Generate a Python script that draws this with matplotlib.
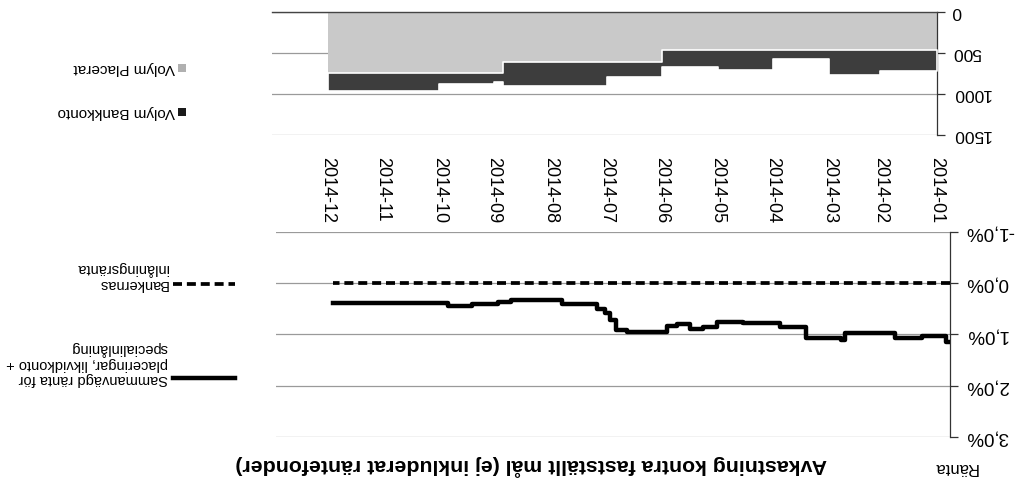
import numpy as np
import matplotlib
matplotlib.use("Agg")
import matplotlib.pyplot as plt
from matplotlib.lines import Line2D
from matplotlib.patches import Rectangle

plt.rcParams['font.family'] = ['Liberation Sans', 'DejaVu Sans']

# ---------------- data ----------------
rate_dates = ['2014-01-01', '2014-01-03', '2014-01-16', '2014-01-31', '2014-02-27',
              '2014-03-01', '2014-03-20', '2014-04-03', '2014-04-23', '2014-05-07',
              '2014-05-15', '2014-05-22', '2014-05-29', '2014-06-03', '2014-06-25',
              '2014-07-01', '2014-07-04', '2014-07-07', '2014-07-11', '2014-07-30',
              '2014-08-27', '2014-09-03', '2014-09-17', '2014-09-30', '2014-12-01']
rate_values = [1.15, 1.02, 1.07, 0.98, 1.11,
               1.07, 0.86, 0.78, 0.76, 0.86,
               0.89, 0.80, 0.84, 0.95, 0.91,
               0.72, 0.58, 0.50, 0.40, 0.33,
               0.36, 0.40, 0.44, 0.39, 0.39]

bank_rate_dates = ['2014-01-01', '2014-12-01']
bank_rate_values = [0.0, 0.0]

vol_dates = ['2014-01-01', '2014-02-01', '2014-03-01', '2014-04-01', '2014-05-01',
             '2014-06-01', '2014-07-01', '2014-08-27', '2014-09-01', '2014-10-01',
             '2014-12-01']
vol_placerat = [460, 460, 460, 460, 460, 610, 610, 750, 750, 750, 750]
vol_bankkonto = [257, 310, 119, 249, 209, 190, 288, 100, 125, 211, 211]

month_ticks = ['2014-01-01', '2014-02-01', '2014-03-01', '2014-04-01', '2014-05-01',
               '2014-06-01', '2014-07-01', '2014-08-01', '2014-09-01', '2014-10-01',
               '2014-11-01', '2014-12-01']
month_labels = ['2014-01', '2014-02', '2014-03', '2014-04', '2014-05', '2014-06',
                '2014-07', '2014-08', '2014-09', '2014-10', '2014-11', '2014-12']

rate_ticks = [-1, 0, 1, 2, 3]
rate_tick_labels = ['-1,0%', '0,0%', '1,0%', '2,0%', '3,0%']
vol_ticks = [0, 500, 1000, 1500]
vol_tick_labels = ['0', '500', '1000', '1500']

title = 'Avkastning kontra fastställt mål (ej inkluderat räntefonder)'
y_title = 'Ränta'
legend_rate = 'Sammanvägd ränta för\nplaceringar, likvidkonto +\nspecialinlåning'
legend_bank = 'Bankernas\ninlåningsränta'
legend_bankkonto = 'Volym Bankkonto'
legend_placerat = 'Volym Placerat'

# ---------------- figure (whole picture is turned 180 degrees) ----------------
W, H = 1022, 486
fig = plt.figure(figsize=(W / 100, H / 100), dpi=100)
fig.patch.set_facecolor('white')


def fx(px):
    return px / W


def fy(py):
    return 1 - py / H


x_start = np.datetime64('2014-01-01')
x_end = np.datetime64('2015-01-01')

# ----- rate line chart -----
ax_line = fig.add_axes([fx(276), fy(437), fx(950 - 276), (437 - 232) / H])
rd = np.array(rate_dates, dtype='datetime64[D]')
bd = np.array(bank_rate_dates, dtype='datetime64[D]')
ax_line.step(bd, bank_rate_values, where='post', color='black', lw=2.7,
             ls=(0, (2.4, 1.3)), zorder=3)
ax_line.step(rd, rate_values, where='post', color='black', lw=3.2, zorder=4)
ax_line.set_xlim(x_end, x_start)
ax_line.set_ylim(3, -1)
ax_line.set_yticks(rate_ticks)
ax_line.set_yticklabels(rate_tick_labels)
ax_line.yaxis.tick_right()
ax_line.yaxis.grid(True, color='#9a9a9a', lw=0.9)
ax_line.set_axisbelow(True)
ax_line.tick_params(axis='y', direction='out', length=6, width=0.9, color='#333333',
                    labelsize=13.5, labelrotation=180, pad=5)
ax_line.tick_params(axis='x', length=0, labelbottom=False, labeltop=False)
for lab in ax_line.get_yticklabels():
    lab.set_va('center')
for s in ['top', 'bottom', 'left']:
    ax_line.spines[s].set_visible(False)
ax_line.spines['right'].set_color('#333333')
ax_line.spines['right'].set_linewidth(0.9)

# ----- volume stacked area chart -----
ax_vol = fig.add_axes([fx(271.5), fy(135), fx(936.7 - 271.5), (135 - 11.7) / H])
vd = np.array(vol_dates, dtype='datetime64[D]')
placerat = np.array(vol_placerat, dtype=float)
bankkonto = np.array(vol_bankkonto, dtype=float)
ax_vol.fill_between(vd, 0, placerat, step='post', facecolor='#c9c9c9',
                    edgecolor='none', zorder=2)
ax_vol.fill_between(vd, placerat, placerat + bankkonto, step='post',
                    facecolor='#3d3d3d', edgecolor='white', lw=1.2, zorder=3)
ax_vol.set_xlim(x_end, x_start)
ax_vol.set_ylim(1500, 0)
ax_vol.set_yticks(vol_ticks)
ax_vol.set_yticklabels(vol_tick_labels)
ax_vol.yaxis.tick_right()
ax_vol.yaxis.grid(True, color='#9a9a9a', lw=0.9)
ax_vol.set_axisbelow(True)
ax_vol.tick_params(axis='y', direction='out', length=6, width=0.9, color='#333333',
                   labelsize=12.5, labelrotation=180, pad=5)
for lab in ax_vol.get_yticklabels():
    lab.set_va('center')
ax_vol.set_xticks(np.array(month_ticks, dtype='datetime64[D]'))
ax_vol.set_xticklabels(month_labels)
ax_vol.tick_params(axis='x', length=0, labelsize=13, labelrotation=-90, pad=16)
for s in ['bottom', 'left']:
    ax_vol.spines[s].set_visible(False)
ax_vol.spines['top'].set_color('#444444')
ax_vol.spines['top'].set_linewidth(1.0)
ax_vol.spines['right'].set_color('#333333')
ax_vol.spines['right'].set_linewidth(0.9)

# ----- titles -----
fig.text(fx(531), fy(465), title, rotation=180, fontsize=15.3, fontweight='bold',
         ha='center', va='center')
fig.text(fx(955), fy(467), y_title, rotation=180, fontsize=12,
         ha='center', va='center')

# ----- legends (drawn turned as well) -----
fig.add_artist(Line2D([fx(173), fx(235)], [fy(378), fy(378)], transform=fig.transFigure,
                      color='black', lw=3.2))
fig.text(fx(168), fy(386), legend_rate, rotation=180, fontsize=10.5,
         ha='right', va='bottom', multialignment='left', linespacing=1.1)
fig.add_artist(Line2D([fx(173), fx(235)], [fy(284), fy(284)], transform=fig.transFigure,
                      color='black', lw=2.7, ls=(0, (2.4, 1.3))))
fig.text(fx(168), fy(291), legend_bank, rotation=180, fontsize=10.5,
         ha='right', va='bottom', multialignment='left', linespacing=1.1)

sq = 8
fig.add_artist(Rectangle((fx(182 - sq / 2), fy(112 + sq / 2)), sq / W, sq / H,
                         transform=fig.transFigure, facecolor='#1a1a1a', edgecolor='none'))
fig.text(fx(175), fy(112), legend_bankkonto, rotation=180, fontsize=11,
         ha='right', va='center')
fig.add_artist(Rectangle((fx(182 - sq / 2), fy(68 + sq / 2)), sq / W, sq / H,
                         transform=fig.transFigure, facecolor='#b0b0b0', edgecolor='none'))
fig.text(fx(175), fy(68), legend_placerat, rotation=180, fontsize=11,
         ha='right', va='center')

fig.savefig('out.png', dpi=100, facecolor='white')
